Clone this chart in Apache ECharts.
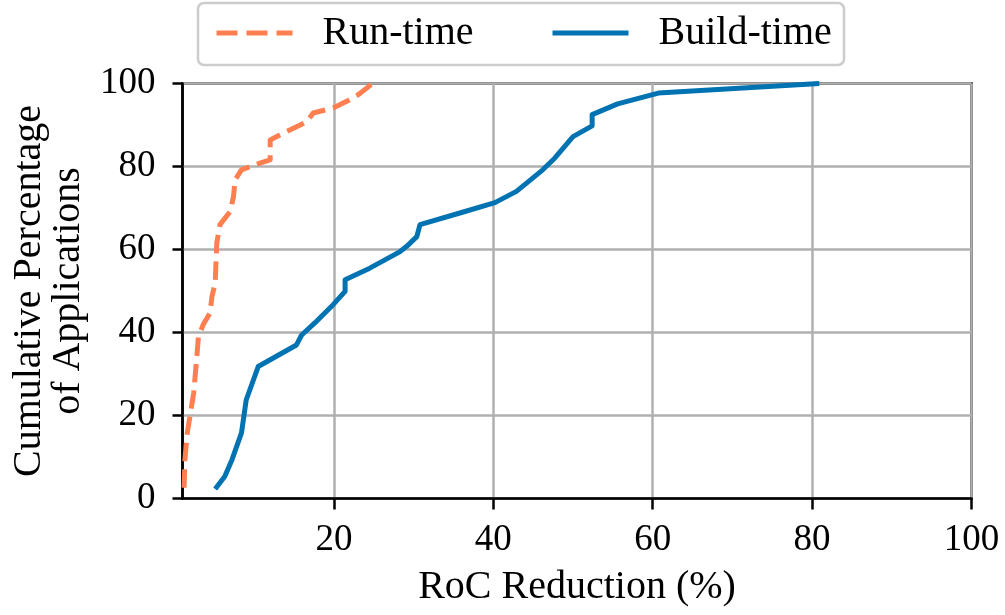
<!DOCTYPE html>
<html>
<head>
<meta charset="utf-8">
<script src="https://cdn.jsdelivr.net/npm/echarts@6/dist/echarts.min.js"></script>
<style>
  html, body { margin: 0; padding: 0; background: #fff; }
  #main { width: 1005px; height: 615px; }
</style>
</head>
<body>
<div id="main"></div>
<script>
// cumulative share of applications vs RoC reduction
var runX = [1.2, 1.3, 1.6, 2.0, 2.4, 2.8, 3.0, 3.6, 4.45, 4.7, 5.1, 5.2, 5.3, 5.7, 7.0, 7.4, 7.6, 8.4, 10.7, 12.0, 12.0, 13.2, 16.6, 17.4, 19.9, 21.6, 23.05, 24.85];
var runY = [2.6, 9.3, 15.8, 20.6, 25.4, 34.2, 39.0, 41.9, 44.7, 48.7, 51.9, 56.7, 61.5, 66.0, 69.2, 72.8, 76.8, 79.2, 80.8, 81.6, 86.4, 87.6, 90.8, 92.9, 94.1, 95.7, 97.3, 100];

var buildX = [5.1, 6.3, 7.2, 8.4, 9.0, 10.5, 15.3, 15.95, 17.6, 19.9, 21.4, 21.4, 24.5, 28.3, 29.1, 30.4, 30.8, 35.8, 40.2, 42.9, 46.2, 47.7, 50.0, 52.4, 52.4, 55.6, 60.7, 80.9];
var buildY = [2.3, 5.3, 9.3, 15.8, 23.8, 31.8, 37.0, 39.4, 42.3, 46.7, 49.9, 52.7, 55.5, 59.5, 60.7, 63.1, 66.0, 68.8, 71.3, 74.0, 79.2, 82.0, 87.2, 89.8, 92.5, 95.1, 97.7, 100];

var xTicks = [20, 40, 60, 80, 100];

function pairs(xs, ys) {
    var out = [];
    for (var i = 0; i < xs.length; i++) {
        out.push([xs[i], ys[i]]);
    }
    return out;
}

var font = '"Liberation Serif", "DejaVu Serif", serif';
var orange = '#ff7f50';
var blue = '#0173b2';

var myChart = echarts.init(document.getElementById('main'), null, { renderer: 'canvas' });

var legendText = {
    fontFamily: font,
    fontSize: 40,
    color: '#000',
    padding: [0, 0, 0, 25]
};

var option = {
    animation: false,
    backgroundColor: '#fff',
    grid: {
        left: 182.5,
        right: 33.5,
        top: 83.5,
        bottom: 116.5,
        show: true,
        borderColor: '#000',
        borderWidth: 2.5,
        backgroundColor: 'transparent'
    },
    graphic: [{
        type: 'rect',
        z: 0,
        shape: { x: 198, y: 3, width: 646, height: 62, r: 6 },
        style: { fill: '#fff', stroke: '#cccccc', lineWidth: 2.5 }
    }],
    legend: [{
        data: ['Run-time'],
        left: 214,
        top: 13,
        padding: 0,
        z: 10,
        itemWidth: 76,
        itemHeight: 14,
        itemStyle: { opacity: 0 },
        lineStyle: { color: orange, width: 5, type: [21, 9], cap: 'butt' },
        textStyle: legendText
    }, {
        data: ['Build-time'],
        left: 550,
        top: 13,
        padding: 0,
        z: 10,
        itemWidth: 76,
        itemHeight: 14,
        itemStyle: { opacity: 0 },
        lineStyle: { color: blue, width: 5, type: 'solid', cap: 'butt' },
        textStyle: legendText
    }],
    xAxis: {
        type: 'value',
        min: 1,
        max: 100,
        name: 'RoC Reduction (%)',
        nameLocation: 'middle',
        nameGap: 69,
        nameTextStyle: { fontFamily: font, fontSize: 40, color: '#000' },
        axisLine: { show: true, lineStyle: { color: '#000', width: 2.5 } },
        axisTick: { show: true, length: 11, customValues: xTicks, lineStyle: { color: '#000', width: 2.5 } },
        axisLabel: { customValues: xTicks, margin: 23, fontFamily: font, fontSize: 37, color: '#000' },
        splitLine: { show: true, lineStyle: { color: '#b0b0b0', width: 2.5 } }
    },
    yAxis: {
        type: 'value',
        min: 0,
        max: 100,
        interval: 20,
        name: 'Cumulative Percentage\nof Applications',
        nameLocation: 'middle',
        nameRotate: 90,
        nameGap: 95,
        nameTextStyle: { fontFamily: font, fontSize: 40, color: '#000', lineHeight: 39, align: 'center' },
        axisLine: { show: true, lineStyle: { color: '#000', width: 2.5 } },
        axisTick: { show: true, length: 10, lineStyle: { color: '#000', width: 2.5 } },
        axisLabel: { margin: 27, fontFamily: font, fontSize: 37, color: '#000' },
        splitLine: { show: true, lineStyle: { color: '#b0b0b0', width: 2.5 } }
    },
    series: [{
        name: 'Run-time',
        type: 'line',
        data: pairs(runX, runY),
        showSymbol: false,
        symbol: 'none',
        z: 3,
        lineStyle: { color: orange, width: 5, type: [18.5, 8], cap: 'butt', join: 'round' },
        itemStyle: { color: orange }
    }, {
        name: 'Build-time',
        type: 'line',
        data: pairs(buildX, buildY),
        showSymbol: false,
        symbol: 'none',
        z: 4,
        lineStyle: { color: blue, width: 5, type: 'solid', cap: 'butt', join: 'round' },
        itemStyle: { color: blue }
    }]
};

myChart.setOption(option);
</script>
</body>
</html>
